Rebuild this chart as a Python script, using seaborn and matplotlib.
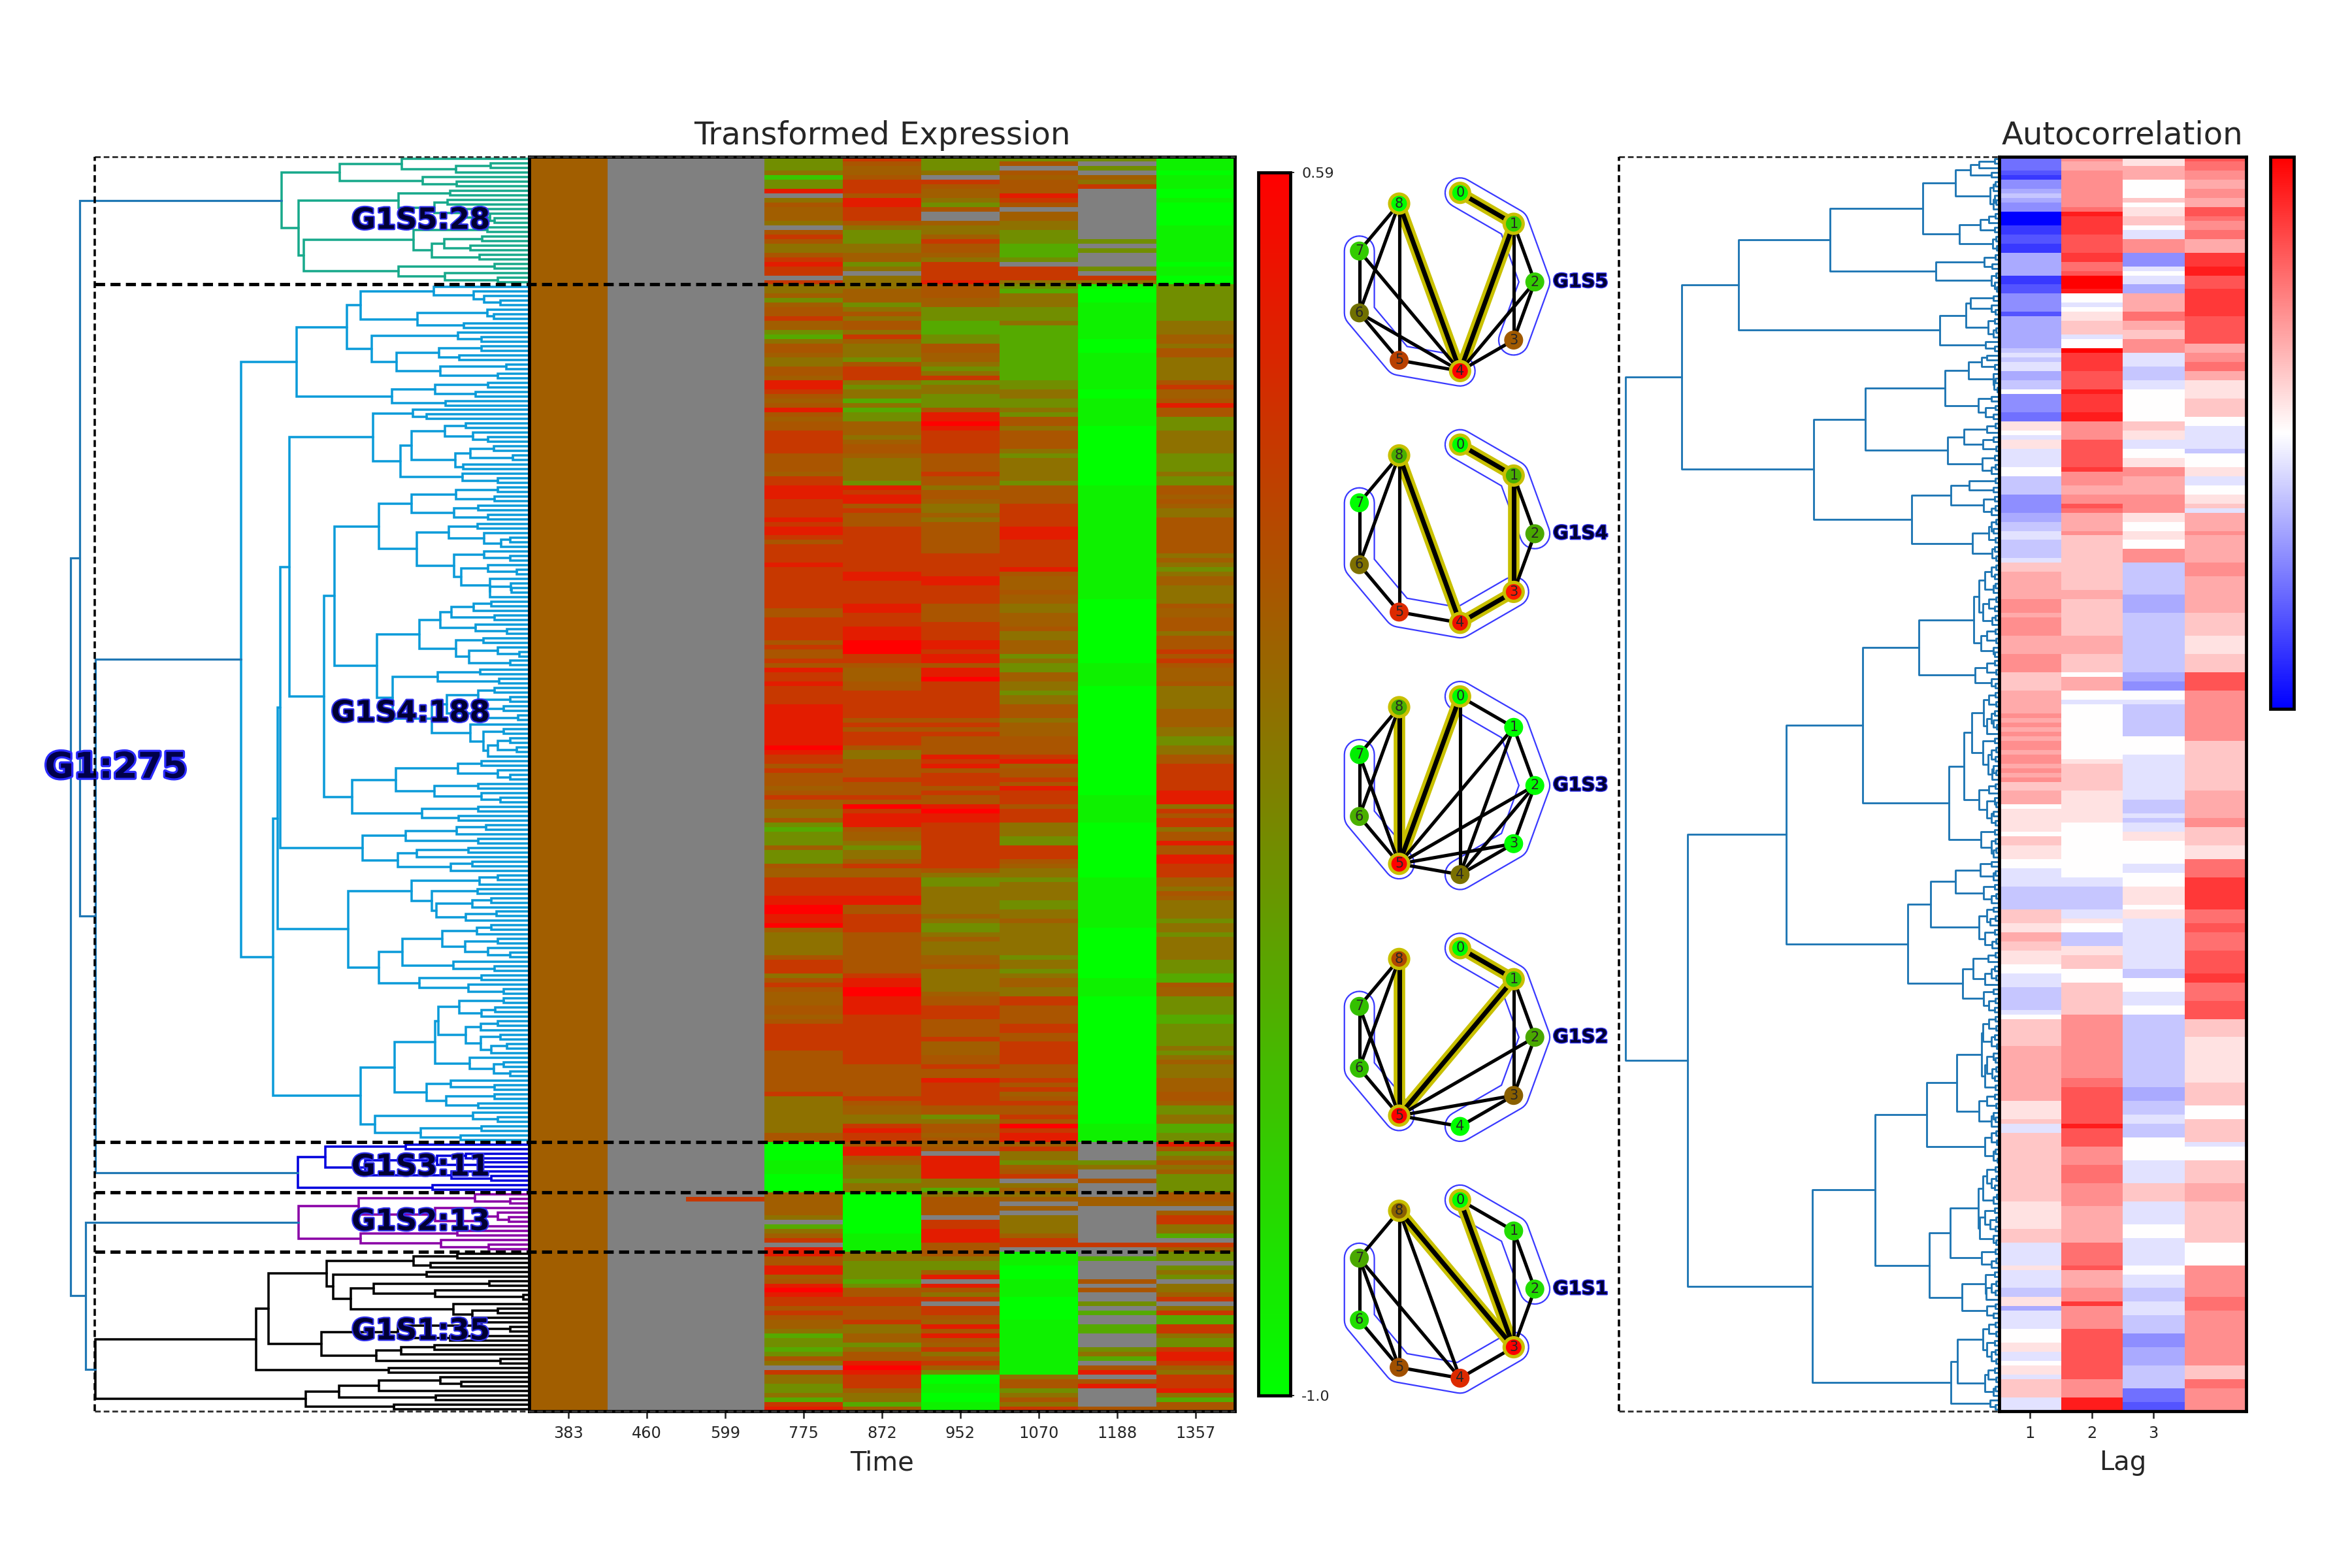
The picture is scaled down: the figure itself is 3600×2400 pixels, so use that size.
import numpy as np
import pandas as pd
import matplotlib
matplotlib.use('Agg')
import matplotlib.pyplot as plt
import matplotlib.patheffects as pe
from matplotlib.colors import LinearSegmentedColormap
from matplotlib.lines import Line2D
import seaborn as sns

sns.set_style('white')
plt.rcParams['font.family'] = ['DejaVu Sans']

# ---------------- data ----------------
time_points = ['383', '460', '599', '775', '872', '952', '1070', '1188', '1357']
cluster_names = ['G1S5', 'G1S4', 'G1S3', 'G1S2', 'G1S1']
cluster_sizes = [28, 188, 11, 13, 35]
lag_names = ['1', '2', '3', '4']
lag_ticks = ['1', '2', '3']

# expression per time point, one char per gene (left dendrogram order)
# '0'..'9' -> -1.0 .. 0.59, 'b' -> 0.0, '.' -> missing
expr_383 = 'b' * 275
expr_460 = '.' * 275
expr_599 = '.' * 228 + '7' + '.' * 46
expr_775 = ('4445244' '8.56bbb' '5.67655' '67877.7'
            '55b4b66' '7bb4356' '6b5566b' '8876b68' '6b66777' '776666b'
            '7788877778' '7887677778' '7777777776' '6777776766' '7687787777' '8888888889' '87767666b6'
            '7bb5564344' '4b4446bb77' '778899889b' '5555567775' '676bbb66b6' '7777776666' '6666675555'
            '555566'
            '00001110000'
            'bbbbb5.35b7.8'
            '86688b6898' '77676bb534' '43465.7554' '45378')
expr_872 = ('76bb677' '7688777' '6544455' 'bb45.55'
            '5bbb456' '56657b5' '5546777' '5455353' '44bbb5b' '66b5555'
            '5487886766' '6777777777' '7887777788' '7778889997' '76bbb66777' '7776767776' '5566667666'
            '76978886bb' '5455b7bb77' '7788667777' '6666666667' '8899888877' '7777777776' '66666676bb'
            '557877'
            '6886b555455'
            '0000000001111'
            '5544443466' '77666755bb' '4566898777' 'b553b')
expr_952 = ('4445.76' 'bb546..' 'b55b766' 'b577778'
            '666bb44' '4333446' '6bb5457' '4554446' '8898777' '7766667'
            '66566b55b5' '6666666777' '7788777766' '6677778878' '8688977777' '7776767666' '6878677767'
            '6689887777' '7777776544' '555555b544' '5b555bb655' '555b667776' '6667bbb667' '6687777766'
            '4566b6'
            'b6.88888553'
            '56666.7788866'
            '6544b8.865' '7.776b8686' 'b7567b4001' '10011')
expr_1070 = ('46.6b66' '6876.bb' '5544433' '34.7775'
             '4355544' '4533333' '3333333' '4455445' '4665666' '6545555'
             '5466667777' '7888777777' '86bbb6bb55' 'bbb655bbb4' '544bb55455' '6665bbb666' '678b667687'
             '7767775554' '47776b5545' '5554455b55' '5555545545' 'bb55776666' '7766777776' '66767b6766'
             '769788'
             'b7554b67.5b'
             '5b.b.5555b77.'
             '1110001111' '0000011111' '1111111566' '45657')
expr_1188 = ('4.4.b57' '.......' '....4.4' '...4.75'
             '1000111' '1111100' '0111111' '1100111' '1110000' '0000000'
             '0011111111' '1111111111' '1111111000' '0000000000' '0111110000' '0000000000' '0000000000'
             '1111110000' '0000000011' '1111111110' '0000000000' '1111000000' '0000000000' '0000000000'
             '001111'
             '....45..6..'
             '.bb........7.'
             '.3....6.6.' '.4.3..33..' '.453.68.68' '....6')
expr_1357 = ('1110111' '0010000' '0111111' '1101100'
             '4444444' '4555bb5' '6655555' '67bb686' '6444555' '5544445'
             '4466b6b556' '66666665b5' '45bb55556b' 'b666566676' '76bbb65555' '5bbbb55445' '5667777778'
             '8857677566' '86688777bb' '56b5555455' '4555554443' '36bb444433' '44444545b5' '55bbb66b44'
             '553344'
             '864565b4444'
             '66b.b77553.7b'
             '44.454.55b' '7.57337754' '47887b5777' '85366')

# autocorrelation per lag (right dendrogram order)
# '0'..'9' -> 0 .. 1, 'a'..'i' -> -1/9 .. -1
ac_lag1 = ('eeefgddcbc' 'ddiiiggffg' 'gcccccggff' 'ddddfccccc' 'ccbabaaccb' 'b0ddddee11' '0a11aaaa00'
           'bbbbddddcc' 'bbaabbbba2' '2333333444' '3444433334' '4442222333' '3343434344' '3443434'
           '2233301111' '102211100a' 'aaabbbbb22' '2113322111' '00aaabbbbb' 'a022222233' '3333333333'
           '11112aa222' '2222222222' '2211111122' '2aaaaa1aaa' 'abb11caaaa' '00011aa011' 'a2222aaa')
ac_lag2 = ('4334444444' '4587777666' '6775569998' '00a011222a' '0097777666' '6877778844' '4466666674'
           '4433446533' '3342222222' '2222233222' '2222233332' '222033300a' '0000000000' '0012222'
           '2211111110' '0000000000' '0aabbbbbaa' '100bbb1122' '2000222222' '2444444444' '4444455666'
           '6666686666' '4444555544' '4443333333' '3555556333' '3444744444' '6666666666' '64444888')
ac_lag3 = ('1133300002' '011220aa44' '4ddda0aacc' '3333553322' '444aaabbba' 'a000000022' '11aa001144'
           '3333444411' '001100444b' 'bbbbbbcccc' 'bbbbbbbbbb' 'bbbccdd00a' 'bbbbbbb000' '0aaaaaa'
           'aaaabbbaba' 'a1100000aa' '0001111011' 'aaaaaaaaaa' 'abb000aaa0' '0bbbbbbbbb' 'bbbbbbbccc'
           'bbbaabbb00' '000aaaaa22' '22aaaaa000' 'aaaaaa00aa' 'abbbaaabbb' 'bdddccccbb' 'bbbeeeff')
ac_lag4 = ('6554433443' '3665445533' '3777886667' '7777766666' '6334455331' '111222200a' 'aaaab00011'
           'aa00112a33' '3343333334' '4433333333' '2222211112' '2226666444' '4444444422' '2222222'
           '2233333344' '2222111555' '5777777755' '5665555666' '6677555566' '6622221111' '1111112222'
           '200022222a' '0002222233' '3322222222' '2000004444' '4445554444' '4444444422' '25544444')

# merge height between neighbouring leaves (left tree, genes)
gene_gaps = [
    402, 122, 231, 598, 336, 229, 782, 249, 412, 257,
    300, 200, 124, 110, 728, 132, 365, 149, 268, 186,
    307, 157, 712, 109, 412, 266, 100, 1420,
    302, 176, 142, 90, 532, 132, 111, 353, 207, 576,
    225, 150, 498, 150, 284, 221, 419, 72, 280, 100,
    734, 130, 297, 170, 433, 264, 910, 367, 323, 493,
    200, 266, 178, 131, 371, 112, 186, 51, 233, 209,
    406, 210, 100, 757, 100, 231, 110, 371, 160, 238,
    130, 474, 164, 254, 142, 60, 89, 355, 143, 60,
    237, 129, 40, 214, 124, 58, 55, 124, 615, 120,
    176, 245, 110, 280, 170, 70, 346, 145, 232, 100,
    30, 190, 60, 480, 155, 288, 95, 431, 110, 160,
    60, 260, 80, 170, 35, 308, 185, 80, 145, 60,
    100, 40, 130, 648, 150, 225, 100, 60, 421, 160,
    300, 150, 90, 559, 160, 338, 223, 786, 136, 230,
    390, 160, 526, 191, 355, 414, 180, 247, 795, 100,
    156, 371, 162, 307, 120, 180, 293, 103, 200, 571,
    120, 166, 274, 100, 203, 130, 60, 400, 240, 110,
    474, 150, 347, 192, 80, 809, 80, 220, 108, 150,
    287, 100, 152, 200, 90, 152, 70, 120, 297, 188,
    80, 112, 60, 426, 247, 110, 323, 110, 262, 160,
    532, 177, 100, 487, 150, 342, 216,
    1370,
    390, 643, 200, 290, 150, 518, 245, 120, 730, 305,
    1449,
    171, 60, 538, 297, 100, 63, 150, 728, 227, 533, 278, 128,
    1402,
    227, 365, 311, 639, 324, 619, 125, 491, 297, 18,
    563, 240, 100, 180, 823, 150, 60, 415, 250, 656,
    300, 405, 483, 90, 862, 443, 1370, 280, 215, 474,
    600, 295, 705, 427]

# merge height between neighbouring leaves (right tree, autocorrelation)
lag_gaps = [
    12, 50, 71, 20, 108, 10, 15, 23, 12, 8,
    15, 188, 10, 25, 47, 12, 98, 8, 16, 6,
    415, 10, 37, 18, 156, 8, 20, 12, 6, 639,
    15, 70, 20, 10, 82, 12, 28, 8, 15, 146,
    33, 12, 778, 30, 44, 12, 76, 15, 10, 13,
    5, 133, 20, 52, 10, 34, 15, 328, 10, 30,
    86, 15, 40, 8, 127, 12, 41, 10, 20, 455,
    10, 73, 15, 119, 12, 38, 10, 20, 215, 8,
    20, 15, 25, 10, 66, 12, 18, 8, 915, 8,
    20, 12, 35, 10, 15, 50, 8, 25, 12, 40,
    10, 18, 63, 10, 30, 8, 45, 15, 12, 197,
    12, 30, 8, 60, 20, 10, 335, 10, 25, 8,
    38, 12, 20, 15, 6, 30, 68, 12, 40, 8,
    20, 10, 28, 15, 8, 18, 86, 10, 25, 50,
    12, 8, 30, 15, 20, 10, 124, 12, 45, 10,
    20, 8, 15, 522, 20, 47, 10, 15, 108, 12,
    38, 8, 20, 168, 15, 30, 10, 22, 50, 12,
    35, 8, 18, 224, 10, 28, 64, 12, 20, 8,
    35, 90, 15, 38, 10, 25, 12, 764, 10, 25,
    8, 40, 12, 20, 6, 44, 15, 10, 30, 8,
    18, 12, 35, 10, 104, 12, 30, 8, 50, 15,
    10, 20, 178, 8, 20, 6, 35, 10, 15, 5,
    304, 10, 30, 8, 20, 12, 40, 6, 15, 52,
    12, 35, 8, 22, 10, 48, 15, 8, 120, 10,
    44, 8, 20, 172, 12, 34, 8, 20, 10, 32,
    92, 10, 30, 15, 458, 10, 25, 8, 40, 12,
    30, 10, 20, 8, 102, 12, 28, 8, 35, 10,
    15, 119, 23, 10]

# cluster networks (nodes 0..8 on a ring)
net_node_colors = [
    ['#00ff00', '#33cc00', '#33cc00', '#a05a00', '#ff0000', '#b84000', '#707000', '#33cc00', '#00ff00'],
    ['#00ff00', '#4ab000', '#4aa800', '#ff1a00', '#ee1100', '#dd2a00', '#7e7000', '#00ff00', '#4ab000'],
    ['#00ff00', '#00ff00', '#00ff00', '#00ff00', '#7a7000', '#ff0000', '#4ab000', '#00ee00', '#4ab000'],
    ['#00ff00', '#33cc00', '#4aa800', '#8a6000', '#00ff00', '#ff0000', '#33c000', '#33c000', '#b04800'],
    ['#00ff00', '#22dd00', '#22dd00', '#ff0000', '#dd2a00', '#a05000', '#22dd00', '#4aa800', '#8a6000'],
]
net_edges = [
    [(8, 7), (8, 6), (8, 5), (7, 6), (7, 4), (6, 5), (6, 4), (5, 4), (1, 2), (1, 3), (2, 3), (2, 4), (3, 4)],
    [(8, 7), (8, 6), (8, 5), (7, 6), (6, 5), (5, 4), (1, 2), (2, 3)],
    [(8, 7), (8, 6), (7, 6), (7, 5), (6, 5), (0, 1), (0, 4), (1, 2), (1, 5), (1, 4), (2, 5), (2, 4),
     (2, 3), (3, 5), (3, 4), (5, 4)],
    [(8, 7), (8, 6), (7, 6), (7, 5), (6, 5), (1, 2), (1, 3), (2, 3), (2, 5), (3, 5), (3, 4), (5, 4)],
    [(8, 7), (8, 5), (8, 4), (7, 6), (7, 5), (7, 4), (6, 5), (5, 4), (4, 3), (0, 1), (1, 3), (1, 2), (2, 3)],
]
net_strong = [
    [(0, 1), (1, 4), (8, 4)],
    [(0, 1), (1, 3), (8, 4), (4, 3)],
    [(8, 5), (0, 5)],
    [(0, 1), (8, 5), (1, 5)],
    [(0, 3), (8, 3)],
]
net_ringed = [[0, 1, 4, 8], [0, 1, 3, 4, 8], [0, 5, 8], [0, 1, 5, 8], [0, 3, 8]]
net_groups = [
    [[0, 1, 2, 3], [7, 6, 5, 4]],
    [[0, 1, 2], [7, 6, 5, 4, 3]],
    [[0, 1, 2, 3, 4], [7, 6, 5]],
    [[0, 1, 2, 3, 4], [7, 6, 5]],
    [[0, 1, 2], [7, 6, 5, 4, 3]],
]

# ---------------- decode ----------------
n_genes = sum(cluster_sizes)
expr_cols = [expr_383, expr_460, expr_599, expr_775, expr_872, expr_952, expr_1070, expr_1188, expr_1357]
ac_cols = [ac_lag1, ac_lag2, ac_lag3, ac_lag4]
for s in expr_cols + ac_cols:
    assert len(s) == n_genes, len(s)
assert len(gene_gaps) == n_genes - 1 and len(lag_gaps) == n_genes - 1

expr_level = {str(d): -1.0 + d * 1.59 / 9 for d in range(10)}
expr_level['1'] = -0.91          # near-saturated green
expr_level['b'] = 0.0
expr_level['.'] = np.nan
ac_level = {str(d): d / 9 for d in range(10)}
ac_level.update({c: -(i + 1) / 9 for i, c in enumerate('abcdefghi')})

expr_df = pd.DataFrame({t: [expr_level[c] for c in s] for t, s in zip(time_points, expr_cols)})
ac_df = pd.DataFrame({l: [ac_level[c] for c in s] for l, s in zip(lag_names, ac_cols)})
cluster_id = np.repeat(np.arange(len(cluster_sizes)), cluster_sizes)


def tree_segments(gaps):
    gaps = np.asarray(gaps, float)
    out = []

    def walk(lo, hi):
        if lo == hi:
            return lo + 0.5, 0.0
        k = lo + int(np.argmax(gaps[lo:hi]))
        y1, h1 = walk(lo, k)
        y2, h2 = walk(k + 1, hi)
        out.append(([h1, gaps[k], gaps[k], h2], [y1, y1, y2, y2], lo, hi))
        return (y1 + y2) / 2, gaps[k]

    walk(0, len(gaps))
    return out


# ---------------- figure ----------------
W, H = 1560, 1040
fig = plt.figure(figsize=(15.6, 10.4), dpi=3600 / 15.6)

cl_colors = ['#17a98b', '#0b9bd9', '#0000dd', '#8a00a6', 'black']
above_color = '#1f77b4'
text_col = '#000033'

# left dendrogram
ax_dl = fig.add_axes([20 / W, 0.1, 0.225 - 20 / W, 0.8])
for xs, ys, lo, hi in tree_segments(gene_gaps):
    same = cluster_id[lo] == cluster_id[hi]
    ax_dl.plot(xs, ys, color=cl_colors[cluster_id[lo]] if same else above_color,
               lw=1.1 if same else 1.0, solid_joinstyle='miter')
ax_dl.set_xlim((0.225 * W - 20) / 0.21, 0)
ax_dl.set_ylim(n_genes, 0)
ax_dl.axis('off')

starts = np.concatenate([[0], np.cumsum(cluster_sizes)])
for i, name in enumerate(cluster_names):
    mid = (starts[i] + starts[i + 1]) / 2
    ax_dl.text(124, mid, f'{name}:{cluster_sizes[i]}', ha='right', va='center', fontsize=14,
               fontweight='bold', color=text_col, zorder=5,
               path_effects=[pe.withStroke(linewidth=1.3, foreground='#3030ee')])
ax_dl.text(1305, 134, f'G1:{n_genes}', ha='center', va='center', fontsize=17,
           fontweight='bold', color='#00004a', zorder=5,
           path_effects=[pe.withStroke(linewidth=2.0, foreground='#2b2bff')])

# expression heatmap
ax_h = fig.add_axes([0.225, 0.1, 0.3, 0.8])
cax_h = fig.add_axes([0.535, 0.11, 0.0135, 0.78])
cmap_expr = LinearSegmentedColormap.from_list('green_red', ['#00ff00', '#ff0000'])
sns.heatmap(expr_df, ax=ax_h, cmap=cmap_expr, vmin=-1.0, vmax=0.59, cbar_ax=cax_h,
            xticklabels=time_points, yticklabels=False, cbar_kws={'ticks': [-1.0, 0.59]})
ax_h.set_facecolor('#808080')
ax_h.set_title('Transformed Expression', fontsize=15, pad=6)
ax_h.set_xlabel('Time', fontsize=12.5, labelpad=4)
ax_h.tick_params(axis='x', bottom=True, length=3.5, width=0.8, labelsize=7.5, labelrotation=0)
for sp in ax_h.spines.values():
    sp.set_visible(True)
    sp.set_linewidth(1.5)
    sp.set_color('black')
cb_h = ax_h.collections[0].colorbar
cb_h.set_ticklabels(['-1.0', '0.59'])
cb_h.ax.tick_params(labelsize=7, length=2, width=0.6, right=True)
cb_h.outline.set_linewidth(1.5)
cb_h.outline.set_edgecolor('black')

# cluster networks
ax_n = fig.add_axes([880 / W, 0.1, 195 / W, 0.8])
ax_n.set_xlim(880, 1075)
ax_n.set_ylim(0.9 * H, 0.1 * H)
ax_n.axis('off')
ring_r, cx = 60, 958
ang = np.deg2rad(80 - 40 * np.arange(9))
for k in range(len(cluster_names)):
    cy = 187 + 167 * k
    px = cx + ring_r * np.cos(ang)
    py = cy - ring_r * np.sin(ang)
    for grp in net_groups[k]:
        ax_n.plot(px[grp], py[grp], color='#3a3aff', lw=15.0, solid_capstyle='round',
                  solid_joinstyle='round', zorder=1)
        ax_n.plot(px[grp], py[grp], color='white', lw=13.6, solid_capstyle='round',
                  solid_joinstyle='round', zorder=1.5)
    for a, b in net_strong[k]:
        ax_n.plot([px[a], px[b]], [py[a], py[b]], color='#c8c000', lw=5.5,
                  solid_capstyle='round', zorder=2)
    for a, b in net_edges[k]:
        ax_n.plot([px[a], px[b]], [py[a], py[b]], color='black', lw=1.6, zorder=3)
    for a, b in net_strong[k]:
        ax_n.plot([px[a], px[b]], [py[a], py[b]], color='black', lw=2.2, zorder=3)
    ring = [('#c8c000' if i in net_ringed[k] else 'none') for i in range(9)]
    ax_n.scatter(px, py, s=82, c=net_node_colors[k], edgecolors=ring, linewidths=1.6, zorder=4)
    for i in range(9):
        ax_n.text(px[i], py[i], str(i), ha='center', va='center', fontsize=6.5, zorder=5)
    ax_n.text(1030, cy, cluster_names[k], ha='left', va='center', fontsize=9, fontweight='bold',
              color=text_col, path_effects=[pe.withStroke(linewidth=0.9, foreground='#3030ee')],
              clip_on=False)

# right dendrogram
ax_dr = fig.add_axes([0.679, 0.1, 0.85 - 0.679, 0.8])
for xs, ys, lo, hi in tree_segments(lag_gaps):
    ax_dr.plot(xs, ys, color=above_color, lw=0.9)
ax_dr.set_xlim((0.85 - 0.679) * W / 0.2708, 0)
ax_dr.set_ylim(n_genes, 0)
ax_dr.axis('off')

# autocorrelation heatmap
ax_a = fig.add_axes([0.85, 0.1, 0.105, 0.8])
cax_a = fig.add_axes([0.9654, 0.548, 0.01, 0.352])
sns.heatmap(ac_df, ax=ax_a, cmap='bwr', vmin=-1, vmax=1, cbar_ax=cax_a,
            xticklabels=False, yticklabels=False, cbar_kws={'ticks': []})
ax_a.set_xticks([0.5, 1.5, 2.5])
ax_a.set_xticklabels(lag_ticks)
ax_a.set_title('Autocorrelation', fontsize=15, pad=6)
ax_a.set_xlabel('Lag', fontsize=12.5, labelpad=4)
ax_a.tick_params(axis='x', bottom=True, length=3.5, width=0.8, labelsize=7.5, labelrotation=0)
for sp in ax_a.spines.values():
    sp.set_visible(True)
    sp.set_linewidth(1.5)
    sp.set_color('black')
cb_a = ax_a.collections[0].colorbar
cb_a.outline.set_linewidth(1.5)
cb_a.outline.set_edgecolor('black')

# dashed cluster boxes
box_x0, box_x1 = 62.7 / W, 0.525
bounds = 0.9 - 0.8 * starts / n_genes
dash = (0, (3.0, 1.6))
for j, yb in enumerate(bounds):
    outer = j in (0, len(bounds) - 1)
    fig.add_artist(Line2D([box_x0, box_x1], [yb, yb], transform=fig.transFigure,
                          color='#333333' if outer else 'black', lw=0.9 if outer else 1.6,
                          ls=dash, zorder=6))
fig.add_artist(Line2D([box_x0, box_x0], [0.1, 0.9], transform=fig.transFigure,
                      color='black', lw=1.1, ls=dash, zorder=6))
rb_x0 = 1074 / W
for yb in (0.1, 0.9):
    fig.add_artist(Line2D([rb_x0, 0.85], [yb, yb], transform=fig.transFigure,
                          color='#333333', lw=0.9, ls=dash, zorder=6))
fig.add_artist(Line2D([rb_x0, rb_x0], [0.1, 0.9], transform=fig.transFigure,
                      color='black', lw=1.1, ls=dash, zorder=6))

fig.savefig('out.png', dpi=3600 / 15.6, facecolor='white')
